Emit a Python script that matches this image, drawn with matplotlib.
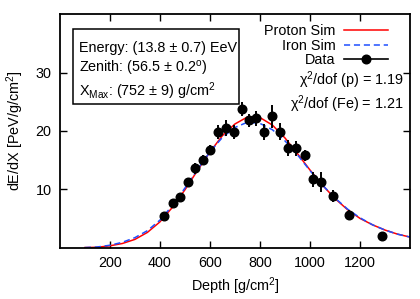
import numpy as np
import matplotlib
matplotlib.use("Agg")
import matplotlib.pyplot as plt
from matplotlib.lines import Line2D
from matplotlib.patches import Rectangle

# --- fonts ---
plt.rcParams['font.family'] = ['Liberation Sans', 'DejaVu Sans']
plt.rcParams['mathtext.fontset'] = 'custom'
plt.rcParams['mathtext.rm'] = 'Liberation Sans'
plt.rcParams['mathtext.it'] = 'Liberation Sans:italic'
plt.rcParams['mathtext.default'] = 'regular'

FS = 10.4

# --- data ---
depth = [415, 451, 482, 511, 541, 572, 602, 634, 665, 697, 727, 757,
         786, 818, 847, 881, 914, 944, 981, 1013, 1045, 1090, 1156, 1289]
dedx = [5.4, 7.7, 8.6, 11.2, 13.6, 15.0, 16.7, 19.9, 20.5, 19.8, 23.7, 21.8,
        22.2, 19.8, 22.5, 19.9, 17.1, 17.0, 15.8, 11.7, 11.3, 8.9, 5.6, 2.0]
dedx_err = [0.5, 0.6, 0.6, 0.8, 0.9, 0.9, 0.9, 1.2, 1.4, 1.2, 1.2, 1.1,
            1.3, 1.4, 2.0, 1.5, 1.4, 1.3, 0.9, 1.3, 1.7, 1.0, 0.8, 0.6]

curve_x = [100, 150, 200, 250, 300, 350, 400, 450, 500, 550, 600, 650, 700,
           750, 800, 850, 900, 950, 1000, 1050, 1100, 1150, 1200, 1250,
           1300, 1350, 1400]
proton_sim = [0.0, 0.05, 0.3, 0.7, 1.4, 2.6, 4.4, 6.9, 9.9, 13.2, 16.4, 19.2,
              21.2, 22.4, 22.3, 21.0, 18.8, 16.1, 13.3, 10.7, 8.4, 6.5, 5.0,
              3.9, 3.0, 2.3, 1.8]
iron_sim = [0.0, 0.1, 0.4, 0.9, 1.7, 2.9, 4.7, 7.2, 10.2, 13.4, 16.4, 18.9,
            20.6, 21.5, 21.3, 20.2, 18.3, 15.9, 13.2, 10.7, 8.5, 6.6, 5.1,
            3.9, 3.0, 2.3, 1.8]

xticks = [200, 400, 600, 800, 1000, 1200]
yticks = [10, 20, 30]

info_lines = ['Energy: (13.8 ± 0.7) EeV',
              'Zenith: (56.5 ± 0.2$^{o}$)',
              'X$_{Max}$: (752 ± 9) g/cm$^2$']
chi_lines = ['χ$^2$/dof (p) = 1.19', 'χ$^2$/dof (Fe) = 1.21']

fig = plt.figure(figsize=(4.2, 2.99), dpi=100)
ax = fig.add_axes([0.1424, 0.172, 0.834, 0.780])

ax.plot(curve_x, proton_sim, color='#ff0000', lw=1.1)
ax.plot(curve_x, iron_sim, color='#1f4fff', lw=1.1, ls=(0, (4, 2.5)))
ax.errorbar(depth, dedx, yerr=dedx_err, fmt='o', color='black', ms=6.2,
            elinewidth=1.4, capsize=0, zorder=5)

ax.set_xlim(0, 1400)
ax.set_ylim(0, 40)
ax.set_xticks(xticks)
ax.set_yticks(yticks)
ax.tick_params(axis='both', direction='in', length=5, width=1.0, top=True,
               right=True, labelsize=FS)
ax.tick_params(axis='x', pad=6)
ax.tick_params(axis='y', pad=6)
for s in ax.spines.values():
    s.set_linewidth(1.3)

ax.set_xlabel('Depth [g/cm$^2$]', fontsize=FS, labelpad=4)
ax.set_ylabel('dE/dX [PeV/g/cm$^2$]', fontsize=FS, labelpad=7)

# info box
ax.add_patch(Rectangle((0.0377, 0.614), 0.475, 0.323, transform=ax.transAxes,
                       fc='white', ec='black', lw=1.1, zorder=6))
for txt, yy in zip(info_lines, [0.855, 0.766, 0.672]):
    ax.text(0.055, yy, txt, transform=ax.transAxes, fontsize=FS,
            ha='left', va='center', zorder=7)

# legend (text right, sample left)
leg_handles = [
    Line2D([], [], color='#ff0000', lw=1.1),
    Line2D([], [], color='#1f4fff', lw=1.1, ls=(0, (4, 2.5))),
    Line2D([], [], color='black', lw=1.2, marker='o', ms=6.2),
]
leg = ax.legend(leg_handles, ['Proton Sim', 'Iron Sim', 'Data'],
                loc='upper right', bbox_to_anchor=(0.965, 1.0), frameon=False,
                fontsize=FS, markerfirst=False, handlelength=3.0,
                handletextpad=0.6, labelspacing=0.02, borderaxespad=0.3)

for txt, yy in zip(chi_lines, [0.718, 0.613]):
    ax.text(0.983, yy, txt, transform=ax.transAxes,
            fontsize=FS, ha='right', va='center')

fig.savefig('out.png', dpi=100)
